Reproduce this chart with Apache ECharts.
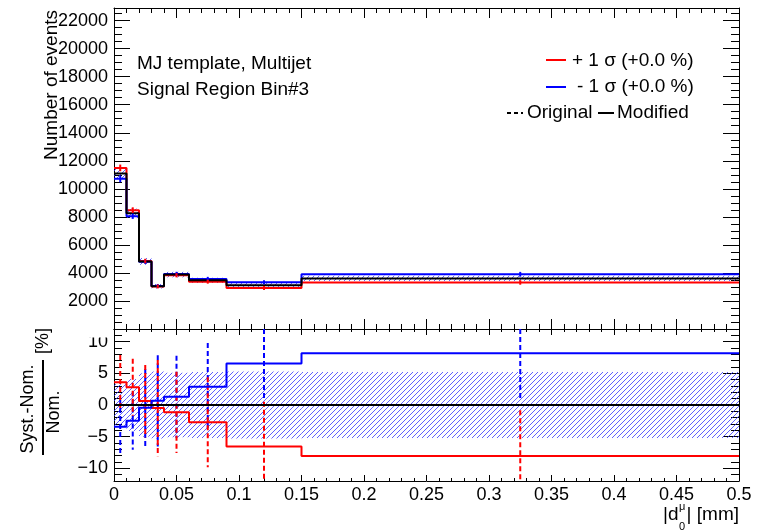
<!DOCTYPE html>
<html>
<head>
<meta charset="utf-8">
<script src="https://cdn.jsdelivr.net/npm/echarts@6/dist/echarts.min.js"></script>
<style>
  html, body { margin: 0; padding: 0; background: #fff; }
  #c { width: 771px; height: 531px; }
</style>
</head>
<body>
<div id="c"></div>
<script>
// Bin edges of |d0| (mm)
const binEdges = [0, 0.01, 0.02, 0.03, 0.04, 0.06, 0.09, 0.15, 0.5];

// Events per bin: nominal template and the +1 sigma / -1 sigma variations
const nominalEvents = [11090, 8250, 4820, 3050, 3880, 3470, 3130, 3610];
const upEvents      = [11490, 8480, 4850, 3035, 3835, 3375, 2925, 3320];
const downEvents    = [10710, 8045, 4800, 3070, 3930, 3570, 3335, 3905];

// Relative statistical uncertainty of the nominal template (%)
const nominalStatPct = [3.3, 4.1, 5.0, 5.3, 5.1, 5.2, 5.3, 5.2];

// Statistical uncertainty of the varied templates (events)
const upStatErr   = [240, 200, 160, 140, 150, 140, 140, 160];
const downStatErr = [240, 190, 160, 140, 150, 150, 140, 170];

// Uncertainty on (Syst.-Nom.)/Nom. of the original variations (%)
const upRatioErr   = [4.3, 4.5, 5.7, 7.6, 6.4, 7.1, 7.05, 7.2];
const downRatioErr = [4.2, 4.6, 6.1, 7.2, 6.5, 6.9, 5.75, 7.4];

const RED = '#ff0000', BLUE = '#0000ff', BLACK = '#000000';
const FONT = '"Liberation Sans", Arial, Helvetica, sans-serif';

const binCenters = binEdges.slice(0, -1).map((e, i) => (e + binEdges[i + 1]) / 2);
const stepPoints = vals => binEdges.map((e, i) => [e, vals[Math.min(i, vals.length - 1)]]);
const ratioOf = arr => arr.map((v, i) => (v - nominalEvents[i]) / nominalEvents[i] * 100);

const ratioUp = ratioOf(upEvents);
const ratioDown = ratioOf(downEvents);
const ratioNominal = ratioOf(nominalEvents);

// Diagonal hatch fill for the statistical band
function hatchFill() {
  const c = document.createElement('canvas');
  c.width = 5; c.height = 5;
  const g = c.getContext('2d');
  g.strokeStyle = '#2b2bff';
  g.lineWidth = 0.75;
  g.beginPath();
  g.moveTo(0, 5); g.lineTo(5, 0);
  g.moveTo(-1, 1); g.lineTo(1, -1);
  g.moveTo(4, 6); g.lineTo(6, 4);
  g.stroke();
  return { image: c, repeat: 'repeat' };
}
const HATCH = hatchFill();

function bandRender(params, api) {
  const p0 = api.coord([api.value(0), api.value(3)]);
  const p1 = api.coord([api.value(1), api.value(2)]);
  const cs = params.coordSys;
  const shape = echarts.graphic.clipRectByRect(
    { x: p0[0], y: p0[1], width: p1[0] - p0[0], height: p1[1] - p0[1] },
    { x: cs.x, y: cs.y, width: cs.width, height: cs.height });
  return shape && { type: 'rect', shape: shape, style: { fill: HATCH, stroke: null } };
}

function errRender(color, dash) {
  return function (params, api) {
    const x = api.value(0), v = api.value(1), e = api.value(2);
    const a = api.coord([x, v + e]), b = api.coord([x, v - e]);
    const cs = params.coordSys;
    const y1 = Math.max(a[1], cs.y), y2 = Math.min(b[1], cs.y + cs.height);
    if (y2 <= y1) return null;
    return {
      type: 'line',
      shape: { x1: a[0], y1: y1, x2: a[0], y2: y2 },
      style: { stroke: color, lineWidth: 2, lineDash: dash || null }
    };
  };
}

const topBand = nominalEvents.map((v, i) =>
  [binEdges[i], binEdges[i + 1], v * (1 - nominalStatPct[i] / 100), v * (1 + nominalStatPct[i] / 100)]);
const ratioBand = nominalStatPct.map((p, i) => [binEdges[i], binEdges[i + 1], -p, p]);

const tickStyle = { color: BLACK, width: 1 };
const frameLine = { show: true, onZero: false, lineStyle: { color: BLACK, width: 1 } };
const noLine = { show: false, onZero: false };

function xAx(grid, pos, major, minor, labels) {
  return {
    type: 'value', gridIndex: grid, position: pos, min: 0, max: 0.5, interval: 0.05,
    axisLine: frameLine,
    axisTick: { show: true, inside: true, length: major, lineStyle: tickStyle },
    minorTick: { show: true, splitNumber: 5, length: minor, lineStyle: tickStyle },
    splitLine: { show: false }, minorSplitLine: { show: false },
    axisLabel: labels
      ? { show: true, margin: 5, color: BLACK, fontFamily: FONT, fontSize: 18 }
      : { show: false }
  };
}

function yAx(grid, pos, min, max, interval, tickLen, withLine, labelFmt) {
  return {
    type: 'value', gridIndex: grid, position: pos, min: min, max: max, interval: interval,
    axisLine: withLine ? frameLine : noLine,
    axisTick: { show: true, inside: true, length: tickLen, lineStyle: tickStyle },
    splitLine: { show: false },
    axisLabel: labelFmt
      ? { show: true, margin: 6, color: BLACK, fontFamily: FONT, fontSize: 18, formatter: labelFmt }
      : { show: false }
  };
}

const countLabel = v => (v > 0 && v % 2000 === 0) ? String(v) : '';
const pctLabel = v => (Math.abs(v) % 5 !== 0) ? '' : (v < 0 ? '\u2212' + (-v) : String(v));

const TXT = '19px ' + FONT;

const option = {
  animation: false,
  backgroundColor: '#ffffff',
  textStyle: { fontFamily: FONT },
  grid: [
    { left: 114, top: 8, width: 625, height: 321 },
    { left: 114, top: 329, width: 625, height: 152 },
    { left: 114, top: 329 + 152 / 12, width: 625, height: 152 * 10 / 12 }
  ],
  xAxis: [
    xAx(0, 'bottom', 10, 5, false),
    xAx(0, 'top', 10, 5, false),
    xAx(1, 'bottom', 6, 3, true),
    xAx(1, 'top', 6, 3, false),
    { type: 'value', gridIndex: 2, min: 0, max: 0.5, show: false }
  ],
  yAxis: [
    yAx(0, 'left', 0, 22900, 2000, 16, true, countLabel),
    yAx(0, 'left', 0, 22900, 500, 8, false, null),
    yAx(0, 'right', 0, 22900, 2000, 16, true, null),
    yAx(0, 'right', 0, 22900, 500, 8, false, null),
    yAx(1, 'left', -12, 12, 1, 8, true, null),
    yAx(1, 'right', -12, 12, 1, 8, true, null),
    yAx(2, 'left', -10, 10, 5, 16, false, pctLabel),
    yAx(2, 'right', -10, 10, 5, 16, false, null)
  ],
  series: [
    // upper panel: event yields
    { type: 'custom', xAxisIndex: 0, yAxisIndex: 0, z: 1, data: topBand, renderItem: bandRender },
    { type: 'line', xAxisIndex: 0, yAxisIndex: 0, z: 2, step: 'end', showSymbol: false,
      data: stepPoints(upEvents), lineStyle: { color: RED, width: 2 } },
    { type: 'line', xAxisIndex: 0, yAxisIndex: 0, z: 2, step: 'end', showSymbol: false,
      data: stepPoints(downEvents), lineStyle: { color: BLUE, width: 2 } },
    { type: 'line', xAxisIndex: 0, yAxisIndex: 0, z: 3, step: 'end', showSymbol: false,
      data: stepPoints(nominalEvents), lineStyle: { color: BLACK, width: 2 } },
    { type: 'custom', xAxisIndex: 0, yAxisIndex: 0, z: 4,
      data: binCenters.map((c, i) => [c, downEvents[i], downStatErr[i]]), renderItem: errRender(BLUE) },
    { type: 'custom', xAxisIndex: 0, yAxisIndex: 0, z: 4,
      data: binCenters.map((c, i) => [c, upEvents[i], upStatErr[i]]), renderItem: errRender(RED) },

    // lower panel: relative difference to nominal
    { type: 'custom', xAxisIndex: 2, yAxisIndex: 4, z: 1, data: ratioBand, renderItem: bandRender },
    { type: 'custom', xAxisIndex: 2, yAxisIndex: 4, z: 2,
      data: binCenters.map((c, i) => [c, ratioDown[i], downRatioErr[i]]), renderItem: errRender(BLUE, [5, 3]) },
    { type: 'custom', xAxisIndex: 2, yAxisIndex: 4, z: 2,
      data: binCenters.map((c, i) => [c, ratioUp[i], upRatioErr[i]]), renderItem: errRender(RED, [5, 3]) },
    { type: 'line', xAxisIndex: 2, yAxisIndex: 4, z: 3, step: 'end', showSymbol: false,
      data: stepPoints(ratioUp), lineStyle: { color: RED, width: 2 } },
    { type: 'line', xAxisIndex: 2, yAxisIndex: 4, z: 3, step: 'end', showSymbol: false,
      data: stepPoints(ratioDown), lineStyle: { color: BLUE, width: 2 } },
    { type: 'line', xAxisIndex: 2, yAxisIndex: 4, z: 4, step: 'end', showSymbol: false,
      data: stepPoints(ratioNominal), lineStyle: { color: BLACK, width: 2 } }
  ],
  graphic: [
    // the upper pad hides the top of the first label of the lower pad
    { type: 'rect', z: 100, shape: { x: 60, y: 329.5, width: 52, height: 8 }, style: { fill: '#fff' } },

    { type: 'text', x: 137, y: 64, style: { text: 'MJ template, Multijet', font: TXT, fill: BLACK, verticalAlign: 'middle' } },
    { type: 'text', x: 137, y: 90, style: { text: 'Signal Region Bin#3', font: TXT, fill: BLACK, verticalAlign: 'middle' } },

    // legend
    { type: 'line', shape: { x1: 546, y1: 60, x2: 566, y2: 60 }, style: { stroke: RED, lineWidth: 2 } },
    { type: 'text', x: 572, y: 61, style: { text: '+ 1 \u03c3 (+0.0 %)', font: TXT, fill: BLACK, verticalAlign: 'middle' } },
    { type: 'line', shape: { x1: 546, y1: 87, x2: 566, y2: 87 }, style: { stroke: BLUE, lineWidth: 2 } },
    { type: 'text', x: 577, y: 87, style: { text: '- 1 \u03c3 (+0.0 %)', font: TXT, fill: BLACK, verticalAlign: 'middle' } },
    { type: 'line', shape: { x1: 507, y1: 113, x2: 523, y2: 113 }, style: { stroke: BLACK, lineWidth: 2, lineDash: [4, 3] } },
    { type: 'text', x: 527, y: 113, style: { text: 'Original', font: TXT, fill: BLACK, verticalAlign: 'middle' } },
    { type: 'line', shape: { x1: 598, y1: 113, x2: 614, y2: 113 }, style: { stroke: BLACK, lineWidth: 2 } },
    { type: 'text', x: 617, y: 113, style: { text: 'Modified', font: TXT, fill: BLACK, verticalAlign: 'middle' } },

    // y-axis title, upper panel
    { type: 'text', x: 52, y: 10, rotation: Math.PI / 2,
      style: { text: 'Number of events', font: TXT, fill: BLACK, align: 'right', verticalAlign: 'middle' } },

    // y-axis title, lower panel: fraction with unit
    { type: 'text', x: 28, y: 409, rotation: Math.PI / 2,
      style: { text: 'Syst.-Nom.', font: '18px ' + FONT, fill: BLACK, align: 'center', verticalAlign: 'middle' } },
    { type: 'line', shape: { x1: 43, y1: 360, x2: 43, y2: 455 }, style: { stroke: BLACK, lineWidth: 2 } },
    { type: 'text', x: 54, y: 412, rotation: Math.PI / 2,
      style: { text: 'Nom.', font: '18px ' + FONT, fill: BLACK, align: 'center', verticalAlign: 'middle' } },
    { type: 'text', x: 43, y: 341, rotation: Math.PI / 2,
      style: { text: '[%]', font: '18px ' + FONT, fill: BLACK, align: 'center', verticalAlign: 'middle' } },

    // x-axis title |d0^mu| [mm]
    { type: 'text', x: 663, y: 515, style: { text: '|d', font: TXT, fill: BLACK, verticalAlign: 'middle' } },
    { type: 'text', x: 679, y: 507, style: { text: '\u03bc', font: '11px ' + FONT, fill: BLACK, verticalAlign: 'middle' } },
    { type: 'text', x: 679, y: 527, style: { text: '0', font: '11px ' + FONT, fill: BLACK, verticalAlign: 'middle' } },
    { type: 'text', x: 739, y: 515, style: { text: '| [mm]', font: TXT, fill: BLACK, align: 'right', verticalAlign: 'middle' } }
  ]
};

const chart = echarts.init(document.getElementById('c'), null, { renderer: 'canvas', width: 771, height: 531 });
chart.setOption(option);
</script>
</body>
</html>
